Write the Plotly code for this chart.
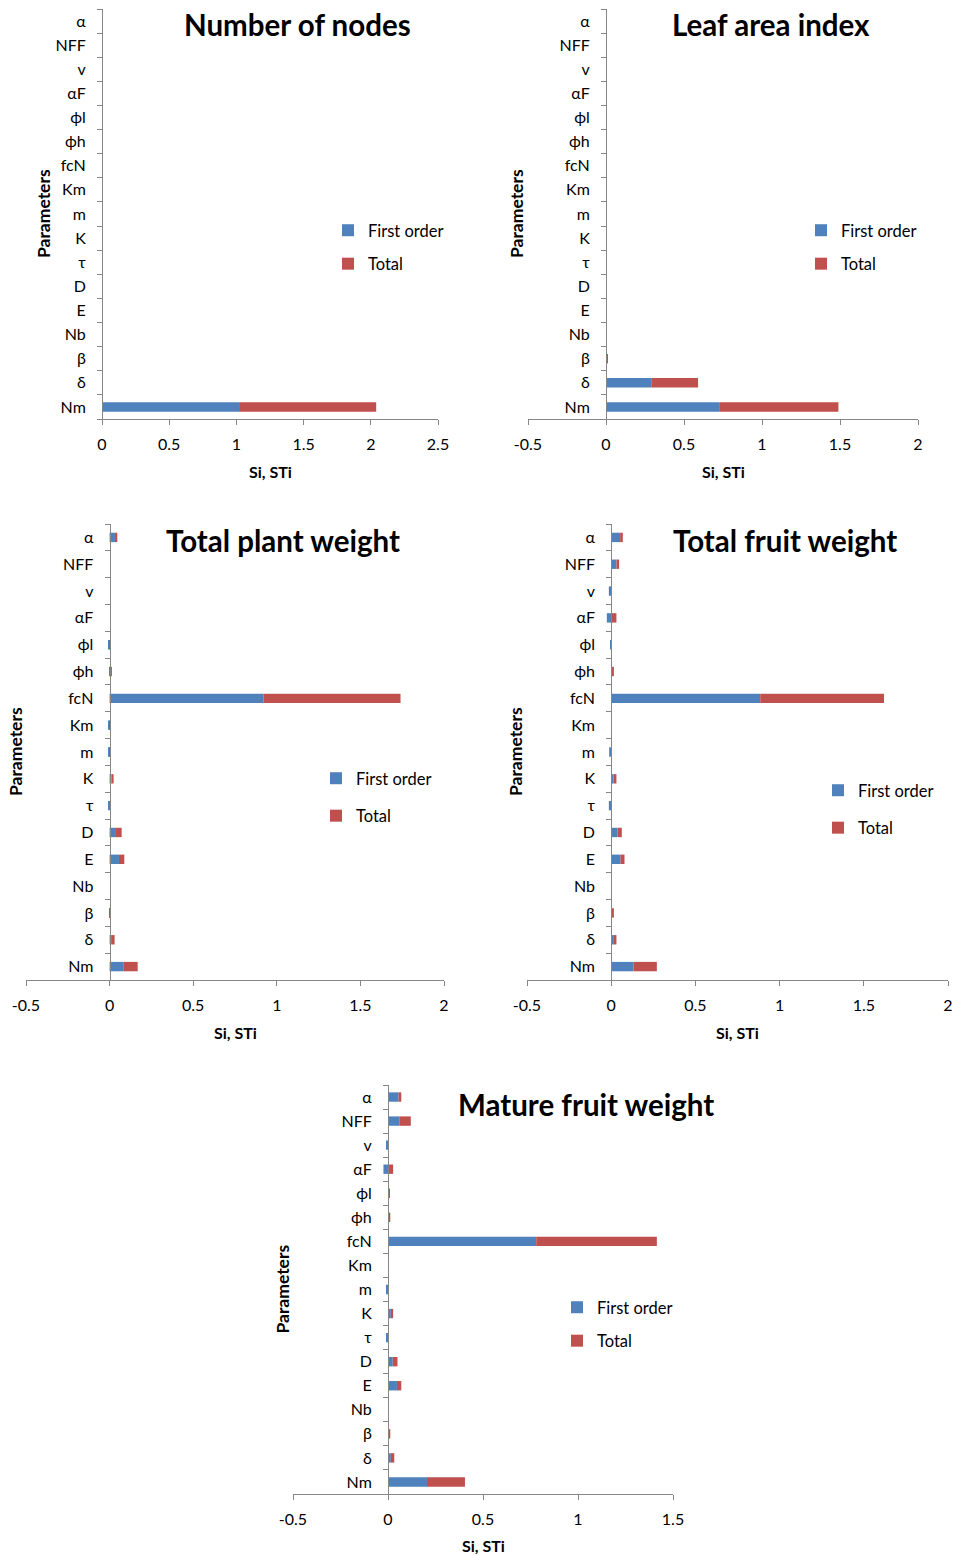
import plotly.graph_objects as go

# Categories, bottom to top
params = ["Nm", "δ", "β", "Nb", "E", "D", "τ", "K", "m", "Km", "fcN", "ϕh", "ϕl", "αF", "v", "NFF", "α"]

titles = ["Number of nodes", "Leaf area index", "Total plant weight", "Total fruit weight", "Mature fruit weight"]

# First order (Si) and Total (STi) values per output, same order as params
nodes_first = [1.02, 0, 0, 0, 0, 0, 0, 0, 0, 0, 0, 0, 0, 0, 0, 0, 0]
nodes_total = [1.02, 0, 0, 0, 0, 0, 0, 0, 0, 0, 0, 0, 0, 0, 0, 0, 0]

lai_first = [0.73, 0.29, 0.003, 0, 0, 0, 0, 0, 0, 0, 0, 0, 0, 0, 0, 0, 0]
lai_total = [0.76, 0.30, 0.010, 0, 0, 0, 0, 0, 0, 0, 0, 0, 0, 0, 0, 0, 0]

plant_first = [0.085, 0.014, 0.002, 0, 0.056, 0.038, -0.008, 0.012, -0.008, -0.008, 0.92, 0.002, -0.008, 0, 0, 0, 0.032]
plant_total = [0.083, 0.016, 0.002, 0, 0.032, 0.034, 0.0, 0.012, 0.002, 0.001, 0.82, 0.012, 0.001, 0, 0, 0, 0.014]

fruit_first = [0.132, 0.016, 0.003, 0, 0.055, 0.038, -0.014, 0.014, -0.012, 0, 0.885, 0.003, -0.004, -0.026, -0.014, 0.031, 0.053]
fruit_total = [0.139, 0.015, 0.013, 0, 0.024, 0.025, 0.002, 0.017, 0.002, 0, 0.735, 0.013, 0.004, 0.031, 0.002, 0.016, 0.016]

mature_first = [0.205, 0.015, 0.002, 0, 0.047, 0.025, -0.010, 0.015, -0.010, 0, 0.78, 0.002, 0.003, -0.024, -0.010, 0.062, 0.055]
mature_total = [0.200, 0.018, 0.010, 0, 0.023, 0.025, 0.002, 0.012, 0.002, 0, 0.635, 0.010, 0.004, 0.027, 0.002, 0.058, 0.015]

# Axis ranges and tick labels
x_ranges = [[0, 2.5], [-0.5, 2], [-0.5, 2], [-0.5, 2], [-0.5, 1.5]]
tick_vals = [[0, 0.5, 1, 1.5, 2, 2.5], [-0.5, 0, 0.5, 1, 1.5, 2], [-0.5, 0, 0.5, 1, 1.5, 2],
             [-0.5, 0, 0.5, 1, 1.5, 2], [-0.5, 0, 0.5, 1, 1.5]]
tick_text = [["0", "0.5", "1", "1.5", "2", "2.5"], ["-0.5", "0", "0.5", "1", "1.5", "2"],
             ["-0.5", "0", "0.5", "1", "1.5", "2"], ["-0.5", "0", "0.5", "1", "1.5", "2"],
             ["-0.5", "0", "0.5", "1", "1.5"]]

firsts = [nodes_first, lai_first, plant_first, fruit_first, mature_first]
totals = [nodes_total, lai_total, plant_total, fruit_total, mature_total]

# ---- layout (pixels in the screenshot) ----
W, H = 955, 1555
plot_boxes = [(102, 438, 9, 419), (528, 918, 9, 419), (26, 444, 524, 980), (527, 948, 524, 980), (293, 673, 1085, 1494)]
legend_pos = [(342, 230), (815, 230), (330, 778), (832, 790), (571, 1307)]
legend_gap = [9, 9, 13, 13, 9]
ytitle_x = [43, 516, 15, 515, 282]
title_cx = [297, 771, 283, 785, 586]
title_cy = [25, 25, 540, 540, 1104]
xtitle_dy = [52, 52, 52, 52, 51]
bar_w = [0.39, 0.39, 0.35, 0.35, 0.39]

BLUE = "#4F81BD"
RED = "#C0504D"
FONT = "Lato"
AXIS_COL = "#868686"


def px(x):
    return x / W


def py(y):
    return 1 - y / H


fig = go.Figure()
layout = dict(width=W, height=H, margin=dict(l=0, r=0, t=0, b=0), barmode="relative",
              paper_bgcolor="white", plot_bgcolor="white", template="none",
              font=dict(family=FONT, size=15, color="#000000"), annotations=[])

for i in range(5):
    n = i + 1
    xa = "x" if n == 1 else f"x{n}"
    ya = "y" if n == 1 else f"y{n}"
    lg = "legend" if n == 1 else f"legend{n}"
    fig.add_trace(go.Bar(y=params, x=firsts[i], orientation="h", name="First order",
                         marker=dict(color=BLUE, line=dict(width=0)), width=bar_w[i],
                         xaxis=xa, yaxis=ya, legend=lg, legendgroup=f"f{n}"))
    fig.add_trace(go.Bar(y=params, x=totals[i], orientation="h", name="Total",
                         marker=dict(color=RED, line=dict(width=0)), width=bar_w[i],
                         xaxis=xa, yaxis=ya, legend=lg, legendgroup=f"t{n}"))

    x0, x1, y0, y1 = plot_boxes[i]
    r0, r1 = x_ranges[i]
    zero_px = x0 + (0 - r0) / (r1 - r0) * (x1 - x0)
    xkey = "xaxis" if n == 1 else f"xaxis{n}"
    ykey = "yaxis" if n == 1 else f"yaxis{n}"
    layout[xkey] = dict(domain=[px(x0), px(x1)], range=[r0, r1], anchor=ya,
                        tickvals=tick_vals[i], ticktext=tick_text[i],
                        showline=True, linecolor=AXIS_COL, linewidth=1, ticks="outside",
                        ticklen=5, tickcolor=AXIS_COL, showgrid=False, zeroline=False,
                        tickfont=dict(family=FONT, size=16, color="#000"), ticklabelstandoff=6,
                        fixedrange=True)
    layout[ykey] = dict(domain=[py(y1), py(y0)], type="category", categoryorder="array",
                        categoryarray=params, anchor="free", position=px(zero_px),
                        showline=True, linecolor=AXIS_COL, linewidth=1, ticks="outside",
                        tickson="boundaries", ticklen=5, tickcolor=AXIS_COL, showgrid=False,
                        zeroline=False, tickfont=dict(family=FONT, size=16, color="#000"),
                        ticklabelstandoff=13, fixedrange=True)
    lx, ly = legend_pos[i]
    layout[lg] = dict(x=px(lx - 14), y=py(ly - 17), xanchor="left", yanchor="top",
                      bgcolor="rgba(0,0,0,0)", font=dict(family=FONT, size=16.5, color="#000"),
                      traceorder="grouped", tracegroupgap=legend_gap[i], orientation="v")
    # chart title
    layout["annotations"].append(dict(text=f"<b>{titles[i]}</b>", xref="paper", yref="paper",
                                      x=px(title_cx[i]), y=py(title_cy[i]),
                                      xanchor="center", yanchor="middle", showarrow=False,
                                      font=dict(family=FONT, size=29.5, color="#000")))
    # axis titles
    layout["annotations"].append(dict(text="<b>Si, STi</b>", xref="paper", yref="paper",
                                      x=px((x0 + x1) / 2), y=py(y1 + xtitle_dy[i]), xanchor="center",
                                      yanchor="middle", showarrow=False,
                                      font=dict(family=FONT, size=16, color="#000")))
    layout["annotations"].append(dict(text="<b>Parameters</b>", xref="paper", yref="paper",
                                      x=px(ytitle_x[i]), y=py((y0 + y1) / 2), xanchor="center",
                                      yanchor="middle", textangle=-90, showarrow=False,
                                      font=dict(family=FONT, size=17.5, color="#000")))

fig.update_layout(**layout)
fig.write_html("out.html", config={"displayModeBar": False},
               post_script="document.body.style.margin='0';document.body.style.overflow='hidden';")
